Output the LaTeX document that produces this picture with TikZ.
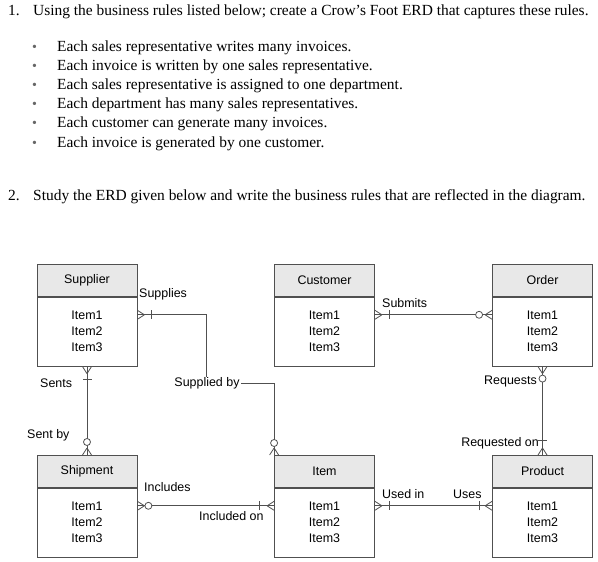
\documentclass[tikz,border=0pt]{standalone}
\usepackage{fontspec}
\setmainfont{Liberation Serif}
\newfontfamily\diagfont{Liberation Sans}
\usetikzlibrary{calc}
\definecolor{boxc}{HTML}{505050}
\definecolor{hdrc}{HTML}{E8E8E8}
\definecolor{linec}{HTML}{505050}
\newcommand\erdentity[4]{%
  \node[hdr, anchor=north] (#1H) at (#3,#4) {#2};
  \node[bdy, anchor=north] (#1) at (#1H.south) {Item1\\Item2\\Item3};
}
\tikzset{
  pics/crowfoot/.style={code={\draw[linec, line width=0.8bp] (7,0) -- (0,4.5) (7,0) -- (0,-4.5);}},
  pics/onebar/.style={code={\draw[linec, line width=0.8bp] (#1,-4.5) -- (#1,4.5);}},
  pics/ring/.style={code={\draw[linec, line width=0.8bp, fill=white] (#1,0) circle (3.5);}},
}
\begin{document}
\begin{tikzpicture}[x=1bp,y=-1bp,
  hdr/.style={draw=boxc, fill=hdrc, minimum width=100bp, minimum height=32bp, inner sep=0,
    font=\diagfont\fontsize{12.5}{15}\selectfont, line width=0.8bp},
  bdy/.style={draw=boxc, fill=white, minimum width=100bp, minimum height=69bp, inner sep=0,
    align=center, font=\diagfont\fontsize{12.5}{16}\selectfont, line width=0.8bp},
  lbl/.style={font=\diagfont\fontsize{12.5}{15}\selectfont, inner sep=0},
  conn/.style={draw=linec, line width=0.8bp},
  txt/.style={font=\fontsize{15.5}{18}\selectfont, inner sep=0, anchor=base west},
  bul/.style={font=\fontsize{14}{16}\selectfont, inner sep=0, anchor=base west, text=black!60},
]
\useasboundingbox[fill=white] (0,0) rectangle (598,562);

% ---- text part ----
\node[txt] (h1n) at (8,16) {1.};
\node[txt] (h1) at (33,16) {Using the business rules listed below; create a Crow's Foot ERD that captures these rules.};
\node[bul] (b1) at (32,52) {\textbullet};
\node[txt] (t1) at (57,52) {Each sales representative writes many invoices.};
\node[bul] (b2) at (32,71) {\textbullet};
\node[txt] (t2) at (57,71) {Each invoice is written by one sales representative.};
\node[bul] (b3) at (32,90) {\textbullet};
\node[txt] (t3) at (57,90) {Each sales representative is assigned to one department.};
\node[bul] (b4) at (32,109) {\textbullet};
\node[txt] (t4) at (57,109) {Each department has many sales representatives.};
\node[bul] (b5) at (32,128) {\textbullet};
\node[txt] (t5) at (57,128) {Each customer can generate many invoices.};
\node[bul] (b6) at (32,148) {\textbullet};
\node[txt] (t6) at (57,148) {Each invoice is generated by one customer.};
\node[txt] (h2n) at (8,201) {2.};
\node[txt] (h2) at (33,201) {Study the ERD given below and write the business rules that are reflected in the diagram.};

% ---- entities ----
\erdentity{supplier}{Supplier}{87}{264}
\erdentity{customer}{Customer}{324.5}{264}
\erdentity{order}{Order}{542.5}{264}
\erdentity{shipment}{Shipment}{87}{455}
\erdentity{item}{Item}{324.5}{455}
\erdentity{product}{Product}{542.5}{455}

% ---- connectors ----
\coordinate (supE) at ($(supplier.north east)+(0,18)$);
\coordinate (bend) at (206,383);
\draw[conn] (supE) -| (bend) -| (itemH.north west);
\pic at (supE) {crowfoot}; \pic at (supE) {onebar=14};
\pic[rotate=90] at (itemH.north west) {crowfoot}; \pic[rotate=90] at (itemH.north west) {ring=12};
\node[lbl, fill=white, inner xsep=1bp, inner ysep=0pt] (lsb) at (207,383) {Supplied by};
\node[lbl, anchor=west] (lsp) at (139,294) {Supplies};

\draw[conn] (supplier.south) -- (shipmentH.north);
\pic[rotate=-90] at (supplier.south) {crowfoot}; \pic[rotate=-90] at (supplier.south) {onebar=13};
\pic[rotate=90] at (shipmentH.north) {crowfoot}; \pic[rotate=90] at (shipmentH.north) {ring=13};
\node[lbl, anchor=west] (lse) at (40,383) {Sents};
\node[lbl, anchor=west] (lsy) at (27,435) {Sent by};

\coordinate (cusE) at ($(customer.north east)+(0,18)$);
\coordinate (ordW) at ($(order.north west)+(0,18)$);
\draw[conn] (cusE) -- (ordW);
\pic at (cusE) {crowfoot}; \pic at (cusE) {onebar=14};
\pic[rotate=180] at (ordW) {crowfoot}; \pic[rotate=180] at (ordW) {ring=13};
\node[lbl, anchor=west] (lsu) at (382,303) {Submits};

\draw[conn] (order.south) -- (productH.north);
\pic[rotate=-90] at (order.south) {crowfoot}; \pic[rotate=-90] at (order.south) {ring=12};
\pic[rotate=90] at (productH.north) {crowfoot}; \pic[rotate=90] at (productH.north) {onebar=15};
\node[lbl, anchor=east] (lrq) at (537,382) {Requests};
\node[lbl, anchor=east] (lro) at (539,443) {Requested on};

\coordinate (shpE) at ($(shipment.north east)+(0,18)$);
\coordinate (itmW) at ($(item.north west)+(0,18)$);
\draw[conn] (shpE) -- (itmW);
\pic at (shpE) {crowfoot}; \pic at (shpE) {ring=11};
\pic[rotate=180] at (itmW) {crowfoot}; \pic[rotate=180] at (itmW) {onebar=15};
\node[lbl, anchor=west] (lin) at (144,487) {Includes};
\node[lbl, anchor=west] (lio) at (199,516) {Included on};

\coordinate (itmE) at ($(item.north east)+(0,18)$);
\coordinate (prdW) at ($(product.north west)+(0,18)$);
\draw[conn] (itmE) -- (prdW);
\pic at (itmE) {crowfoot}; \pic at (itmE) {onebar=14};
\pic[rotate=180] at (prdW) {crowfoot}; \pic[rotate=180] at (prdW) {onebar=13};
\node[lbl, anchor=west] (lui) at (382,494) {Used in};
\node[lbl, anchor=west] (lus) at (453,494) {Uses};
\end{tikzpicture}
\end{document}
